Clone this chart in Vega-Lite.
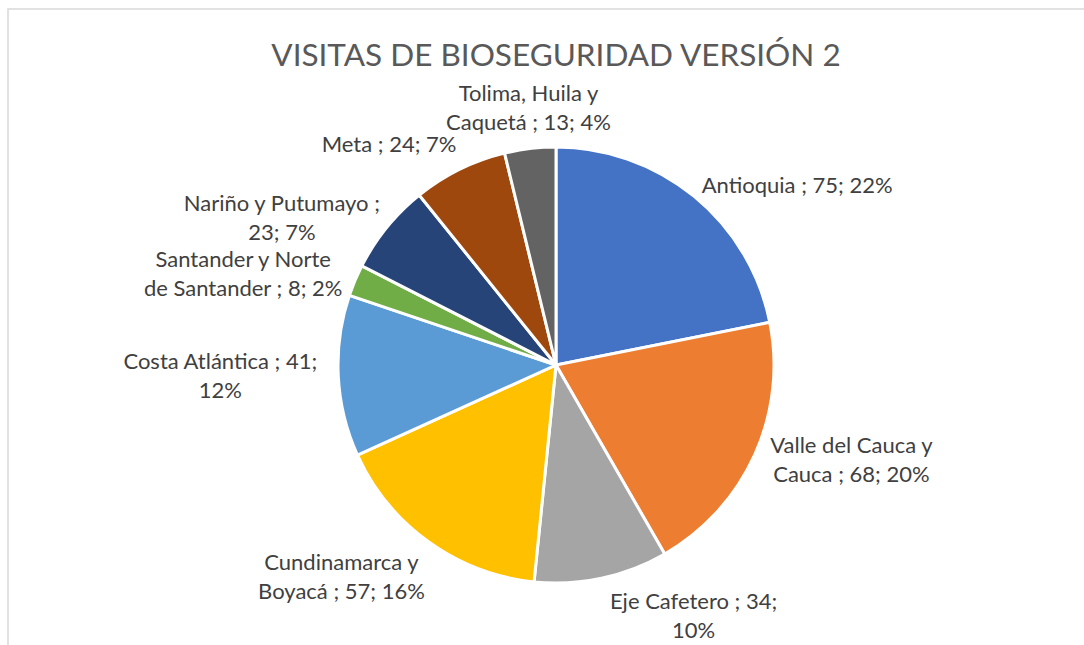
{
  "$schema": "https://vega.github.io/schema/vega-lite/v6.json",
  "width": 1096,
  "height": 712,
  "autosize": {"type": "none"},
  "padding": {"left": 8, "top": 9, "right": -20, "bottom": -76},
  "background": "white",
  "config": {"view": {"stroke": null}},
  "title": {
    "text": "VISITAS DE BIOSEGURIDAD VERSIÓN 2",
    "font": "Lato",
    "fontSize": 31.5,
    "fontWeight": "normal",
    "color": "#595959",
    "anchor": "middle",
    "frame": "group",
    "baseline": "bottom",
    "offset": -96
  },
  "data": {
    "values": [
      {"orden": 1, "region": "Antioquia", "visitas": 75, "etiqueta": "Antioquia ; 75; 22%"},
      {"orden": 2, "region": "Valle del Cauca y Cauca", "visitas": 68, "etiqueta": "Valle del Cauca y\nCauca ; 68; 20%"},
      {"orden": 3, "region": "Eje Cafetero", "visitas": 34, "etiqueta": "Eje Cafetero ; 34;\n10%"},
      {"orden": 4, "region": "Cundinamarca y Boyacá", "visitas": 57, "etiqueta": "Cundinamarca y\nBoyacá ; 57; 16%"},
      {"orden": 5, "region": "Costa Atlántica", "visitas": 41, "etiqueta": "Costa Atlántica ; 41;\n12%"},
      {"orden": 6, "region": "Santander y Norte de Santander", "visitas": 8, "etiqueta": "Santander y Norte\nde Santander ; 8; 2%"},
      {"orden": 7, "region": "Nariño y Putumayo", "visitas": 23, "etiqueta": "Nariño y Putumayo ;\n23; 7%"},
      {"orden": 8, "region": "Meta", "visitas": 24, "etiqueta": "Meta ; 24; 7%"},
      {"orden": 9, "region": "Tolima, Huila y Caquetá", "visitas": 13, "etiqueta": "Tolima, Huila y\nCaquetá ; 13; 4%"}
    ]
  },
  "layer": [
    {
      "data": {"values": [{}]},
      "mark": {"type": "rect", "fill": null, "stroke": "#D9D9D9", "strokeWidth": 1.5},
      "encoding": {}
    },
    {
      "transform": [
        {"stack": "visitas", "groupby": [], "sort": [{"field": "orden", "order": "ascending"}], "as": ["v0", "v1"]}
      ],
      "mark": {"type": "arc", "outerRadius": 218, "stroke": "white", "strokeWidth": 3},
      "encoding": {
        "theta": {"field": "v0", "type": "quantitative", "scale": {"domain": [0, 343], "zero": true, "nice": false}},
        "theta2": {"field": "v1"},
        "color": {
          "field": "region",
          "type": "nominal",
          "scale": {
            "domain": ["Antioquia", "Valle del Cauca y Cauca", "Eje Cafetero", "Cundinamarca y Boyacá", "Costa Atlántica", "Santander y Norte de Santander", "Nariño y Putumayo", "Meta", "Tolima, Huila y Caquetá"],
            "range": ["#4472C4", "#ED7D31", "#A5A5A5", "#FFC000", "#5B9BD5", "#70AD47", "#264478", "#9E480E", "#636363"]
          },
          "legend": null
        }
      }
    },
    {
      "transform": [
        {"stack": "visitas", "groupby": [], "sort": [{"field": "orden", "order": "ascending"}], "as": ["v0", "v1"]},
        {"joinaggregate": [{"op": "sum", "field": "visitas", "as": "total"}]},
        {"calculate": "(datum.v0 + datum.v1) / 2", "as": "mid"},
        {"calculate": "PI * (datum.v0 + datum.v1) / datum.total", "as": "ang"}
      ],
      "mark": {
        "type": "text",
        "radius": 232,
        "font": "Lato",
        "fontSize": 22,
        "color": "#404040",
        "lineBreak": "\n",
        "lineHeight": 29,
        "align": "center",
        "dx": {"expr": "(sin(datum.ang) > 0.15 ? 1 : (sin(datum.ang) < -0.15 ? -1 : 0)) * 0.5 * 9.9 * max(length(split(datum.etiqueta, '\\n')[0]), length(peek(split(datum.etiqueta, '\\n'))))"},
        "baseline": {"expr": "cos(datum.ang) > 0.8 ? 'bottom' : (cos(datum.ang) < -0.8 ? 'top' : 'middle')"},
        "dy": {"expr": "-(length(split(datum.etiqueta, '\\n')) - 1) * 29 * (cos(datum.ang) > 0.8 ? 1 : (cos(datum.ang) < -0.8 ? 0 : 0.5))"}
      },
      "encoding": {
        "theta": {"field": "mid", "type": "quantitative", "scale": {"domain": [0, 343], "zero": true, "nice": false}},
        "text": {"field": "etiqueta", "type": "nominal"}
      }
    }
  ]
}
